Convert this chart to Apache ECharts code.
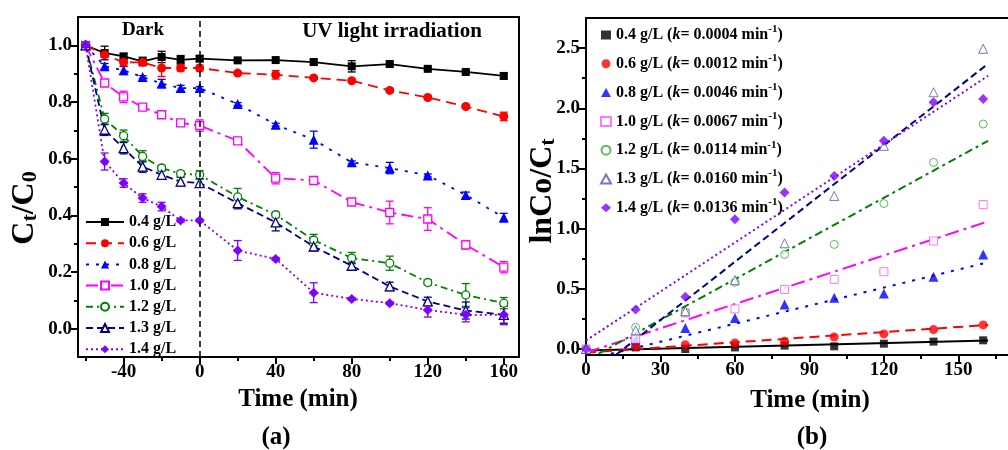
<!DOCTYPE html>
<html>
<head>
<meta charset="utf-8">
<script src="https://cdn.jsdelivr.net/npm/echarts@6/dist/echarts.min.js"></script>
<style>
html,body{margin:0;padding:0;background:#fff;}
#chart{width:1008px;height:450px;}
</style>
</head>
<body>
<div id="chart"></div>
<script>
// ---------- data ----------
const dosages = ['0.4', '0.6', '0.8', '1.0', '1.2', '1.3', '1.4'];
const kValues = ['0.0004', '0.0012', '0.0046', '0.0067', '0.0114', '0.0160', '0.0136'];

// panel (a): Ct/C0 vs time
const timeA = [-60, -50, -40, -30, -20, -10, 0, 20, 40, 60, 80, 100, 120, 140, 160];
const ratio04 = [1.0, 0.973, 0.961, 0.943, 0.959, 0.949, 0.953, 0.947, 0.948, 0.941, 0.926, 0.934, 0.917, 0.906, 0.892];
const ratio06 = [1.0, 0.967, 0.940, 0.940, 0.920, 0.920, 0.920, 0.902, 0.896, 0.885, 0.875, 0.841, 0.816, 0.784, 0.749];
const ratio08 = [1.0, 0.926, 0.912, 0.888, 0.865, 0.849, 0.849, 0.793, 0.720, 0.667, 0.587, 0.567, 0.541, 0.472, 0.392];
const ratio10 = [1.0, 0.867, 0.818, 0.782, 0.755, 0.726, 0.717, 0.663, 0.531, 0.523, 0.447, 0.410, 0.387, 0.296, 0.217];
const ratio12 = [1.0, 0.740, 0.681, 0.608, 0.567, 0.547, 0.543, 0.465, 0.402, 0.313, 0.249, 0.231, 0.163, 0.119, 0.090];
const ratio13 = [1.0, 0.702, 0.637, 0.572, 0.543, 0.519, 0.514, 0.443, 0.375, 0.290, 0.222, 0.149, 0.096, 0.064, 0.049];
const ratio14 = [1.0, 0.590, 0.514, 0.461, 0.431, 0.382, 0.382, 0.276, 0.246, 0.127, 0.105, 0.090, 0.066, 0.049, 0.049];

// error bar half-lengths
const err04 = [0, 0.024, 0.010, 0.015, 0.020, 0.015, 0.010, 0.005, 0.000, 0.010, 0.020, 0.010, 0.005, 0.005, 0.010];
const err06 = [0, 0.010, 0.015, 0.010, 0.030, 0.010, 0.010, 0.005, 0.015, 0.005, 0.005, 0.005, 0.005, 0.005, 0.015];
const err08 = [0, 0.010, 0.015, 0.005, 0.015, 0.010, 0.005, 0.005, 0.005, 0.030, 0.005, 0.020, 0.005, 0.010, 0.015];
const err10 = [0, 0.010, 0.020, 0.010, 0.010, 0.010, 0.020, 0.005, 0.020, 0.010, 0.010, 0.040, 0.040, 0.015, 0.020];
const err12 = [0, 0.020, 0.020, 0.020, 0.010, 0.010, 0.015, 0.030, 0.010, 0.020, 0.020, 0.025, 0.010, 0.040, 0.020];
const err13 = [0, 0.020, 0.020, 0.020, 0.015, 0.015, 0.015, 0.020, 0.030, 0.015, 0.010, 0.015, 0.015, 0.030, 0.030];
const err14 = [0, 0.030, 0.015, 0.015, 0.015, 0.005, 0.005, 0.035, 0.005, 0.035, 0.005, 0.005, 0.025, 0.025, 0.035];

// panel (b): ln(C0/Ct) vs time
const timeB = [0, 20, 40, 60, 80, 100, 120, 140, 160];
const lnB04 = [0, 0.013, 0.000, 0.013, 0.028, 0.022, 0.044, 0.061, 0.072];
const lnB06 = [0, 0.022, 0.036, 0.050, 0.064, 0.100, 0.125, 0.161, 0.200];
const lnB08 = [0, 0.080, 0.175, 0.258, 0.369, 0.425, 0.461, 0.600, 0.786];
const lnB10 = [0, 0.083, 0.300, 0.333, 0.494, 0.578, 0.642, 0.897, 1.200];
const lnB12 = [0, 0.180, 0.305, 0.555, 0.786, 0.869, 1.208, 1.550, 1.869];
const lnB13 = [0, 0.155, 0.313, 0.572, 0.878, 1.272, 1.688, 2.133, 2.494];
const lnB14 = [0, 0.328, 0.433, 1.078, 1.300, 1.438, 1.730, 2.050, 2.078];

// fitted lines (start and end points)
const fitX0 = [0, 0, 10, 0, 5, 12, 0];
const fitY0 = [-0.012, -0.030, -0.040, -0.030, -0.040, -0.050, 0.070];
const fitX1 = [162, 162, 162, 162, 162, 162, 162];
const fitY1 = [0.070, 0.200, 0.720, 1.060, 1.730, 2.370, 2.270];

// tick values
const xMajorA = [-40, 0, 40, 80, 120, 160];
const xMinorA = [-60, -20, 20, 60, 100, 140];
const yMajorA = [0, 0.2, 0.4, 0.6, 0.8, 1.0];
const yMinorA = [0.1, 0.3, 0.5, 0.7, 0.9];
const xMajorB = [0, 30, 60, 90, 120, 150];
const xMinorB = [15, 45, 75, 105, 135, 165];
const yMajorB = [0, 0.5, 1.0, 1.5, 2.0, 2.5];
const yMinorB = [0.25, 0.75, 1.25, 1.75, 2.25];

// ---------- styles ----------
const FONT = '"Liberation Serif", "Times New Roman", serif';
const ratios = [ratio04, ratio06, ratio08, ratio10, ratio12, ratio13, ratio14];
const errs = [err04, err06, err08, err10, err12, err13, err14];
const lnBs = [lnB04, lnB06, lnB08, lnB10, lnB12, lnB13, lnB14];
const colors = ['#000000', '#ff0000', '#0000ff', '#ff00ff', '#008000', '#000080', '#8000ff'];
const colorsB = ['#000000', '#ff0000', '#0000ff', '#ff55ff', '#33aa33', '#5555aa', '#8000ff'];
const symbols = ['rect', 'circle', 'triangle', 'rect', 'circle', 'triangle', 'diamond'];
const symSizes = [8, 9, 10, 8, 8, 9, 10];
const hollow = [false, false, false, true, true, true, false];
const dashes = ['solid', [10, 6], [3, 7], [12, 5, 3, 5], [7, 4, 2, 4], [7, 4], [2, 3]];
const fitDashes = ['solid', [10, 6], [3, 7], [14, 5, 3, 5], [8, 4, 3, 4], [7, 4], [2, 3]];

const leftNames = dosages.map(d => d + ' g/L');
const rightNames = dosages.map((d, i) => d + ' g/L (k= ' + kValues[i] + ' min-1)');

function itemStyleFor(i, bw, cols) {
  return hollow[i]
    ? { color: '#ffffff', borderColor: cols[i], borderWidth: bw }
    : { color: cols[i], borderColor: cols[i], borderWidth: 0 };
}

const tickLabel = { fontSize: 19, fontWeight: 'bold', fontFamily: FONT, color: '#000' };
const axLine = { show: true, onZero: false, lineStyle: { color: '#000', width: 2 } };
const tickStyle = { color: '#000', width: 2 };

function lineOnly(gridIndex, position, min, max) {
  return {
    type: 'value', gridIndex, position, min, max,
    axisLine: axLine, axisTick: { show: false }, axisLabel: { show: false }, splitLine: { show: false }
  };
}
function minorAxis(gridIndex, position, min, max, vals) {
  return {
    type: 'value', gridIndex, position, min, max,
    axisLine: { show: false, onZero: false },
    axisTick: { show: true, inside: false, length: 4, lineStyle: tickStyle, customValues: vals },
    axisLabel: { show: false }, splitLine: { show: false }
  };
}
function majorAxis(gridIndex, position, min, max, vals, fmt) {
  return {
    type: 'value', gridIndex, position, min, max,
    axisLine: axLine,
    axisTick: { show: true, inside: false, length: 7, lineStyle: tickStyle, customValues: vals },
    axisLabel: Object.assign({ customValues: vals, margin: 6, formatter: fmt }, tickLabel),
    splitLine: { show: false }
  };
}

const series = [];
// error bars (panel a)
ratios.forEach((r, i) => {
  series.push({
    type: 'custom', name: 'err' + i, xAxisIndex: 0, yAxisIndex: 0, silent: true, z: 2,
    data: timeA.map((t, j) => [t, r[j], errs[i][j]]),
    renderItem: function (params, api) {
      const x = api.value(0), y = api.value(1), e = api.value(2);
      if (!e) return null;
      const top = api.coord([x, y + e]);
      const bot = api.coord([x, y - e]);
      const hw = 4;
      const st = { stroke: colors[i], lineWidth: 1.3 };
      return {
        type: 'group', children: [
          { type: 'line', shape: { x1: top[0], y1: top[1], x2: bot[0], y2: bot[1] }, style: st },
          { type: 'line', shape: { x1: top[0] - hw, y1: top[1], x2: top[0] + hw, y2: top[1] }, style: st },
          { type: 'line', shape: { x1: bot[0] - hw, y1: bot[1], x2: bot[0] + hw, y2: bot[1] }, style: st }
        ]
      };
    }
  });
});
// lines with markers (panel a)
ratios.forEach((r, i) => {
  const s = {
    type: 'line', name: leftNames[i], xAxisIndex: 0, yAxisIndex: 0, z: 3,
    data: timeA.map((t, j) => [t, r[j]]),
    symbol: symbols[i], symbolSize: symSizes[i], showSymbol: true,
    itemStyle: itemStyleFor(i, 1.3, colors),
    lineStyle: { color: colors[i], width: 1.8, type: dashes[i] }
  };
  if (i === 0) {
    s.markLine = {
      silent: true, symbol: ['none', 'none'], label: { show: false },
      lineStyle: { color: '#000', type: [6, 4], width: 1.5 },
      data: [{ xAxis: 0 }]
    };
  }
  series.push(s);
});
// fitted lines (panel b)
lnBs.forEach((v, i) => {
  series.push({
    type: 'line', name: 'fit' + i, xAxisIndex: 3, yAxisIndex: 3, z: 2,
    data: [[fitX0[i], fitY0[i]], [fitX1[i], fitY1[i]]],
    symbol: 'none', showSymbol: false, clip: true,
    lineStyle: { color: colors[i], width: 2, type: fitDashes[i] }
  });
});
// scatter (panel b)
lnBs.forEach((v, i) => {
  series.push({
    type: 'scatter', name: rightNames[i], xAxisIndex: 3, yAxisIndex: 3, z: 3,
    data: timeB.map((t, j) => [t, v[j]]),
    symbol: symbols[i], symbolSize: symSizes[i],
    itemStyle: itemStyleFor(i, 1, colorsB)
  });
});

const chart = echarts.init(document.getElementById('chart'), null, { renderer: 'canvas' });
chart.setOption({
  animation: false,
  backgroundColor: '#ffffff',
  grid: [
    { left: 78, top: 17, width: 441, height: 340 },
    { left: 586, top: 18, width: 442, height: 337 }
  ],
  xAxis: [
    majorAxis(0, 'bottom', -64, 168, xMajorA, v => String(v)),
    minorAxis(0, 'bottom', -64, 168, xMinorA),
    lineOnly(0, 'top', -64, 168),
    majorAxis(1, 'bottom', 0, 170, xMajorB, v => String(v)),
    minorAxis(1, 'bottom', 0, 170, xMinorB),
    lineOnly(1, 'top', 0, 170)
  ],
  yAxis: [
    majorAxis(0, 'left', -0.1, 1.1, yMajorA, v => v.toFixed(1)),
    minorAxis(0, 'left', -0.1, 1.1, yMinorA),
    lineOnly(0, 'right', -0.1, 1.1),
    majorAxis(1, 'left', -0.05, 2.75, yMajorB, v => v.toFixed(1)),
    minorAxis(1, 'left', -0.05, 2.75, yMinorB)
  ],
  legend: [
    {
      data: leftNames, orient: 'vertical', left: 80, top: 209,
      itemWidth: 38, itemHeight: 10, itemGap: 5.2, selectedMode: false,
      textStyle: { fontSize: 16, fontWeight: 'bold', fontFamily: FONT, color: '#000', lineHeight: 16 }
    },
    {
      data: rightNames, orient: 'vertical', left: 595, top: 19,
      itemWidth: 10, itemHeight: 9, itemGap: 9.8, selectedMode: false,
      formatter: function (name) {
        const i = rightNames.indexOf(name);
        return '{b|' + dosages[i] + ' g/L (}{k|k}{b|= ' + kValues[i] + ' min}{sup|-1}{b|)}';
      },
      textStyle: {
        fontSize: 16, fontWeight: 'bold', fontFamily: FONT, color: '#000',
        rich: {
          b: { fontSize: 16, fontWeight: 'bold', fontFamily: FONT, color: '#000', lineHeight: 22 },
          k: { fontSize: 16, fontWeight: 'bold', fontStyle: 'italic', fontFamily: FONT, color: '#000', lineHeight: 22 },
          sup: { fontSize: 11, fontWeight: 'bold', fontFamily: FONT, color: '#000', lineHeight: 10, verticalAlign: 'top' }
        }
      }
    }
  ],
  graphic: [
    {
      type: 'text', x: 25, y: 208, rotation: Math.PI / 2, silent: true,
      style: {
        text: 'C{sub|t}/C{sub|0}', fontSize: 32, fontWeight: 'bold', fontFamily: FONT, fill: '#000',
        align: 'center', verticalAlign: 'middle', textAlign: 'center', textVerticalAlign: 'middle',
        rich: { sub: { fontSize: 22, fontWeight: 'bold', fontFamily: FONT, fill: '#000', verticalAlign: 'bottom', lineHeight: 22 } }
      }
    },
    {
      type: 'text', x: 543, y: 191, rotation: Math.PI / 2, silent: true,
      style: {
        text: 'lnCo/C{sub|t}', fontSize: 32, fontWeight: 'bold', fontFamily: FONT, fill: '#000',
        align: 'center', verticalAlign: 'middle', textAlign: 'center', textVerticalAlign: 'middle',
        rich: { sub: { fontSize: 22, fontWeight: 'bold', fontFamily: FONT, fill: '#000', verticalAlign: 'bottom', lineHeight: 22 } }
      }
    },
    { type: 'text', x: 298, y: 400, silent: true,
      style: { text: 'Time (min)', fontSize: 25, fontWeight: 'bold', fontFamily: FONT, fill: '#000', align: 'center', verticalAlign: 'middle', textAlign: 'center', textVerticalAlign: 'middle' } },
    { type: 'text', x: 276, y: 438, silent: true,
      style: { text: '(a)', fontSize: 25, fontWeight: 'bold', fontFamily: FONT, fill: '#000', align: 'center', verticalAlign: 'middle', textAlign: 'center', textVerticalAlign: 'middle' } },
    { type: 'text', x: 810, y: 401, silent: true,
      style: { text: 'Time (min)', fontSize: 25, fontWeight: 'bold', fontFamily: FONT, fill: '#000', align: 'center', verticalAlign: 'middle', textAlign: 'center', textVerticalAlign: 'middle' } },
    { type: 'text', x: 812, y: 438, silent: true,
      style: { text: '(b)', fontSize: 25, fontWeight: 'bold', fontFamily: FONT, fill: '#000', align: 'center', verticalAlign: 'middle', textAlign: 'center', textVerticalAlign: 'middle' } },
    { type: 'text', x: 143, y: 30, silent: true,
      style: { text: 'Dark', fontSize: 19, fontWeight: 'bold', fontFamily: FONT, fill: '#000', align: 'center', verticalAlign: 'middle', textAlign: 'center', textVerticalAlign: 'middle' } },
    { type: 'text', x: 392, y: 32, silent: true,
      style: { text: 'UV light irradiation', fontSize: 21, fontWeight: 'bold', fontFamily: FONT, fill: '#000', align: 'center', verticalAlign: 'middle', textAlign: 'center', textVerticalAlign: 'middle' } }
  ],
  series: series
});
</script>
</body>
</html>
